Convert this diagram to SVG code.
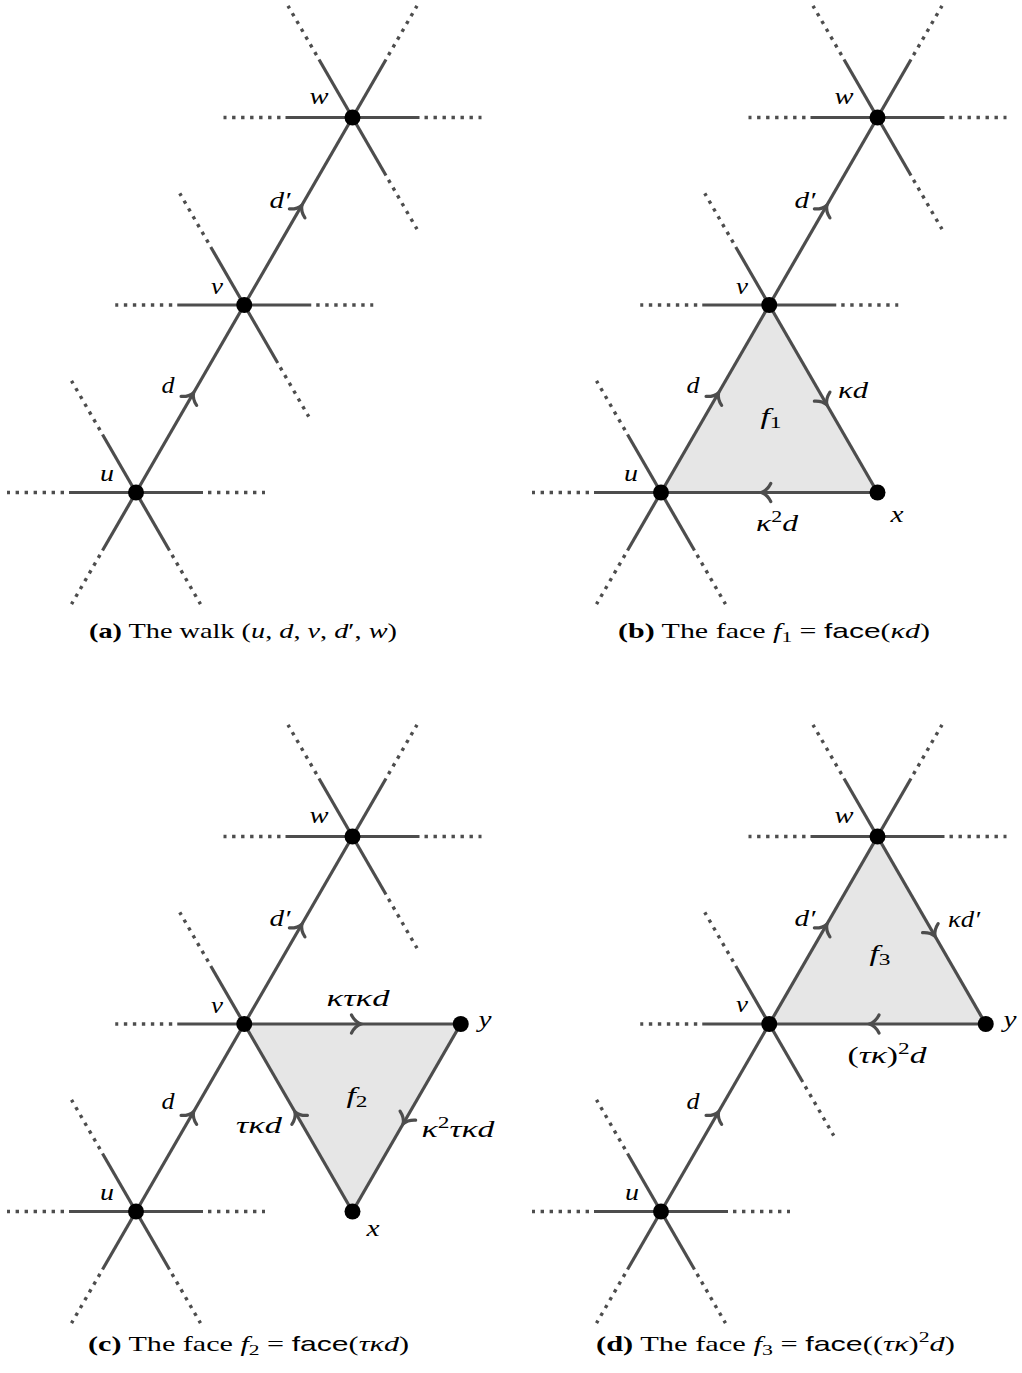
<svg xmlns="http://www.w3.org/2000/svg" width="1022" height="1373" viewBox="0 0 1022 1373">
<style>
.s{stroke:#4d4d4d;stroke-width:3.2;fill:none}
.dt{stroke:#4d4d4d;stroke-width:3.4;fill:none;stroke-dasharray:3.4 5.6}
.e{stroke:#4d4d4d;stroke-width:3.2;fill:none}
.ah{stroke:#4d4d4d;stroke-width:3.2;fill:none;stroke-linecap:round}
.face{fill:#e6e6e6;stroke:none}
.lb{font-family:"Liberation Serif",serif;font-style:italic;font-size:23px;fill:#000;text-anchor:middle}
.up{font-style:normal}
.cap{font-family:"Liberation Serif",serif;font-size:21px;fill:#000;text-anchor:middle}
.i{font-style:italic}
.sf{font-family:"Liberation Sans",sans-serif}
</style>
<defs>
<g id="sp"><line class="s" x1="0" y1="0" x2="67" y2="0"/><line class="dt" x1="72" y1="0" x2="129" y2="0"/></g>
<path id="ar" class="ah" d="M -9.5 -9 C -7 -4 -3 -1 0 0 C -3 1 -7 4 -9.5 9"/>
</defs>

<g id="faces">
<polygon class="face" points="661,492.5 769.25,305 877.5,492.5"/>
<polygon class="face" points="244.25,1024 460.75,1024 352.5,1211.5"/>
<polygon class="face" points="769.25,1024 877.5,836.5 985.75,1024"/>
</g>

<g id="connectors">
<line class="e" x1="136" y1="492.5" x2="244.25" y2="305"/>
<line class="e" x1="244.25" y1="305" x2="352.5" y2="117.5"/>
<use href="#ar" transform="translate(193.6 392.7) rotate(-60)"/>
<use href="#ar" transform="translate(301.9 205.2) rotate(-60)"/>
<line class="e" x1="661" y1="492.5" x2="769.25" y2="305"/>
<line class="e" x1="769.25" y1="305" x2="877.5" y2="117.5"/>
<line class="e" x1="769.25" y1="305" x2="877.5" y2="492.5"/>
<line class="e" x1="877.5" y1="492.5" x2="661" y2="492.5"/>
<use href="#ar" transform="translate(718.6 392.7) rotate(-60)"/>
<use href="#ar" transform="translate(826.9 205.2) rotate(-60)"/>
<use href="#ar" transform="translate(826.9 404.8) rotate(60)"/>
<use href="#ar" transform="translate(761.25 492.5) rotate(180)"/>
<line class="e" x1="136" y1="1211.5" x2="244.25" y2="1024"/>
<line class="e" x1="244.25" y1="1024" x2="352.5" y2="836.5"/>
<line class="e" x1="244.25" y1="1024" x2="460.75" y2="1024"/>
<line class="e" x1="460.75" y1="1024" x2="352.5" y2="1211.5"/>
<line class="e" x1="352.5" y1="1211.5" x2="244.25" y2="1024"/>
<use href="#ar" transform="translate(193.6 1111.7) rotate(-60)"/>
<use href="#ar" transform="translate(301.9 924.2) rotate(-60)"/>
<use href="#ar" transform="translate(361 1024) rotate(0)"/>
<use href="#ar" transform="translate(403.1 1123.8) rotate(120)"/>
<use href="#ar" transform="translate(294.9 1111.7) rotate(240)"/>
<line class="e" x1="661" y1="1211.5" x2="769.25" y2="1024"/>
<line class="e" x1="769.25" y1="1024" x2="877.5" y2="836.5"/>
<line class="e" x1="877.5" y1="836.5" x2="985.75" y2="1024"/>
<line class="e" x1="985.75" y1="1024" x2="769.25" y2="1024"/>
<use href="#ar" transform="translate(718.6 1111.7) rotate(-60)"/>
<use href="#ar" transform="translate(826.9 924.2) rotate(-60)"/>
<use href="#ar" transform="translate(935.1 936.3) rotate(60)"/>
<use href="#ar" transform="translate(869.5 1024) rotate(180)"/>
</g>

<g id="edge-labels">
<text class="lb" x="168" y="393" textLength="13" lengthAdjust="spacingAndGlyphs">d</text>
<text class="lb" x="280" y="208" textLength="21" lengthAdjust="spacingAndGlyphs">d′</text>
<text class="lb" x="693" y="393" textLength="13" lengthAdjust="spacingAndGlyphs">d</text>
<text class="lb" x="805" y="208" textLength="21" lengthAdjust="spacingAndGlyphs">d′</text>
<text class="lb" x="853" y="398" textLength="30" lengthAdjust="spacingAndGlyphs">κd</text>
<text class="lb" x="777" y="531" textLength="42" lengthAdjust="spacingAndGlyphs">κ<tspan class="up" font-size="16" dy="-9">2</tspan><tspan dy="9">d</tspan></text>
<text class="lb" x="771" y="424" textLength="21" lengthAdjust="spacingAndGlyphs">f<tspan class="up" font-size="16" dy="4">1</tspan></text>
<text class="lb" x="168" y="1109" textLength="13" lengthAdjust="spacingAndGlyphs">d</text>
<text class="lb" x="280" y="926" textLength="21" lengthAdjust="spacingAndGlyphs">d′</text>
<text class="lb" x="358" y="1006" textLength="63" lengthAdjust="spacingAndGlyphs">κτκd</text>
<text class="lb" x="259" y="1133" textLength="46" lengthAdjust="spacingAndGlyphs">τκd</text>
<text class="lb" x="458" y="1137" textLength="73" lengthAdjust="spacingAndGlyphs">κ<tspan class="up" font-size="16" dy="-9">2</tspan><tspan dy="9">τκd</tspan></text>
<text class="lb" x="357" y="1103" textLength="21" lengthAdjust="spacingAndGlyphs">f<tspan class="up" font-size="16" dy="4">2</tspan></text>
<text class="lb" x="693" y="1109" textLength="13" lengthAdjust="spacingAndGlyphs">d</text>
<text class="lb" x="805" y="926" textLength="21" lengthAdjust="spacingAndGlyphs">d′</text>
<text class="lb" x="964" y="927" textLength="32" lengthAdjust="spacingAndGlyphs">κd′</text>
<text class="lb" x="887" y="1063" textLength="79" lengthAdjust="spacingAndGlyphs"><tspan class="up">(</tspan>τκ<tspan class="up">)</tspan><tspan class="up" font-size="16" dy="-9">2</tspan><tspan dy="9">d</tspan></text>
<text class="lb" x="880" y="961" textLength="21" lengthAdjust="spacingAndGlyphs">f<tspan class="up" font-size="16" dy="4">3</tspan></text>
</g>

<g id="a-u"><use href="#sp" transform="translate(136 492.5) rotate(0)"/><use href="#sp" transform="translate(136 492.5) rotate(60)"/><use href="#sp" transform="translate(136 492.5) rotate(120)"/><use href="#sp" transform="translate(136 492.5) rotate(180)"/><use href="#sp" transform="translate(136 492.5) rotate(240)"/><circle cx="136" cy="492.5" r="8"/><text class="lb" x="107" y="481" textLength="14" lengthAdjust="spacingAndGlyphs">u</text></g>
<g id="a-v"><use href="#sp" transform="translate(244.25 305) rotate(0)"/><use href="#sp" transform="translate(244.25 305) rotate(60)"/><use href="#sp" transform="translate(244.25 305) rotate(180)"/><use href="#sp" transform="translate(244.25 305) rotate(240)"/><circle cx="244.25" cy="305" r="8"/><text class="lb" x="217" y="294" textLength="12" lengthAdjust="spacingAndGlyphs">v</text></g>
<g id="a-w"><use href="#sp" transform="translate(352.5 117.5) rotate(0)"/><use href="#sp" transform="translate(352.5 117.5) rotate(60)"/><use href="#sp" transform="translate(352.5 117.5) rotate(180)"/><use href="#sp" transform="translate(352.5 117.5) rotate(240)"/><use href="#sp" transform="translate(352.5 117.5) rotate(300)"/><circle cx="352.5" cy="117.5" r="8"/><text class="lb" x="319" y="104" textLength="19" lengthAdjust="spacingAndGlyphs">w</text></g>

<g id="b-u"><use href="#sp" transform="translate(661 492.5) rotate(60)"/><use href="#sp" transform="translate(661 492.5) rotate(120)"/><use href="#sp" transform="translate(661 492.5) rotate(180)"/><use href="#sp" transform="translate(661 492.5) rotate(240)"/><circle cx="661" cy="492.5" r="8"/><text class="lb" x="631" y="481" textLength="14" lengthAdjust="spacingAndGlyphs">u</text></g>
<g id="b-v"><use href="#sp" transform="translate(769.25 305) rotate(0)"/><use href="#sp" transform="translate(769.25 305) rotate(180)"/><use href="#sp" transform="translate(769.25 305) rotate(240)"/><circle cx="769.25" cy="305" r="8"/><text class="lb" x="742" y="294" textLength="12" lengthAdjust="spacingAndGlyphs">v</text></g>
<g id="b-w"><use href="#sp" transform="translate(877.5 117.5) rotate(0)"/><use href="#sp" transform="translate(877.5 117.5) rotate(60)"/><use href="#sp" transform="translate(877.5 117.5) rotate(180)"/><use href="#sp" transform="translate(877.5 117.5) rotate(240)"/><use href="#sp" transform="translate(877.5 117.5) rotate(300)"/><circle cx="877.5" cy="117.5" r="8"/><text class="lb" x="844" y="104" textLength="19" lengthAdjust="spacingAndGlyphs">w</text></g>
<g id="b-x"><circle cx="877.5" cy="492.5" r="8"/><text class="lb" x="897" y="522" textLength="13" lengthAdjust="spacingAndGlyphs">x</text></g>

<g id="c-u"><use href="#sp" transform="translate(136 1211.5) rotate(0)"/><use href="#sp" transform="translate(136 1211.5) rotate(60)"/><use href="#sp" transform="translate(136 1211.5) rotate(120)"/><use href="#sp" transform="translate(136 1211.5) rotate(180)"/><use href="#sp" transform="translate(136 1211.5) rotate(240)"/><circle cx="136" cy="1211.5" r="8"/><text class="lb" x="107" y="1200" textLength="14" lengthAdjust="spacingAndGlyphs">u</text></g>
<g id="c-v"><use href="#sp" transform="translate(244.25 1024) rotate(180)"/><use href="#sp" transform="translate(244.25 1024) rotate(240)"/><circle cx="244.25" cy="1024" r="8"/><text class="lb" x="217" y="1013" textLength="12" lengthAdjust="spacingAndGlyphs">v</text></g>
<g id="c-w"><use href="#sp" transform="translate(352.5 836.5) rotate(0)"/><use href="#sp" transform="translate(352.5 836.5) rotate(60)"/><use href="#sp" transform="translate(352.5 836.5) rotate(180)"/><use href="#sp" transform="translate(352.5 836.5) rotate(240)"/><use href="#sp" transform="translate(352.5 836.5) rotate(300)"/><circle cx="352.5" cy="836.5" r="8"/><text class="lb" x="319" y="823" textLength="19" lengthAdjust="spacingAndGlyphs">w</text></g>
<g id="c-x"><circle cx="352.5" cy="1211.5" r="8"/><text class="lb" x="373" y="1236" textLength="13" lengthAdjust="spacingAndGlyphs">x</text></g>
<g id="c-y"><circle cx="460.75" cy="1024" r="8"/><text class="lb" x="485" y="1027" textLength="13" lengthAdjust="spacingAndGlyphs">y</text></g>

<g id="d-u"><use href="#sp" transform="translate(661 1211.5) rotate(0)"/><use href="#sp" transform="translate(661 1211.5) rotate(60)"/><use href="#sp" transform="translate(661 1211.5) rotate(120)"/><use href="#sp" transform="translate(661 1211.5) rotate(180)"/><use href="#sp" transform="translate(661 1211.5) rotate(240)"/><circle cx="661" cy="1211.5" r="8"/><text class="lb" x="632" y="1200" textLength="14" lengthAdjust="spacingAndGlyphs">u</text></g>
<g id="d-v"><use href="#sp" transform="translate(769.25 1024) rotate(60)"/><use href="#sp" transform="translate(769.25 1024) rotate(180)"/><use href="#sp" transform="translate(769.25 1024) rotate(240)"/><circle cx="769.25" cy="1024" r="8"/><text class="lb" x="742" y="1012" textLength="12" lengthAdjust="spacingAndGlyphs">v</text></g>
<g id="d-w"><use href="#sp" transform="translate(877.5 836.5) rotate(0)"/><use href="#sp" transform="translate(877.5 836.5) rotate(180)"/><use href="#sp" transform="translate(877.5 836.5) rotate(240)"/><use href="#sp" transform="translate(877.5 836.5) rotate(300)"/><circle cx="877.5" cy="836.5" r="8"/><text class="lb" x="844" y="823" textLength="19" lengthAdjust="spacingAndGlyphs">w</text></g>
<g id="d-y"><circle cx="985.75" cy="1024" r="8"/><text class="lb" x="1010" y="1027" textLength="13" lengthAdjust="spacingAndGlyphs">y</text></g>

<g id="captions">
<text class="cap" x="243" y="638" textLength="308" lengthAdjust="spacingAndGlyphs"><tspan font-weight="bold">(a)</tspan> The walk (<tspan class="i">u</tspan>, <tspan class="i">d</tspan>, <tspan class="i">v</tspan>, <tspan class="i">d</tspan>′, <tspan class="i">w</tspan>)</text>
<text class="cap" x="774" y="638" textLength="312" lengthAdjust="spacingAndGlyphs"><tspan font-weight="bold">(b)</tspan> The face <tspan class="i">f</tspan><tspan font-size="15" dy="4">1</tspan><tspan dy="-4"> = </tspan><tspan class="sf">face</tspan>(<tspan class="i">κd</tspan>)</text>
<text class="cap" x="248.5" y="1350.5" textLength="321" lengthAdjust="spacingAndGlyphs"><tspan font-weight="bold">(c)</tspan> The face <tspan class="i">f</tspan><tspan font-size="15" dy="4">2</tspan><tspan dy="-4"> = </tspan><tspan class="sf">face</tspan>(<tspan class="i">τκd</tspan>)</text>
<text class="cap" x="775.5" y="1350.5" textLength="359" lengthAdjust="spacingAndGlyphs"><tspan font-weight="bold">(d)</tspan> The face <tspan class="i">f</tspan><tspan font-size="15" dy="4">3</tspan><tspan dy="-4"> = </tspan><tspan class="sf">face</tspan>((<tspan class="i">τκ</tspan>)<tspan font-size="15" dy="-9">2</tspan><tspan class="i" dy="9">d</tspan>)</text>
</g>
</svg>
